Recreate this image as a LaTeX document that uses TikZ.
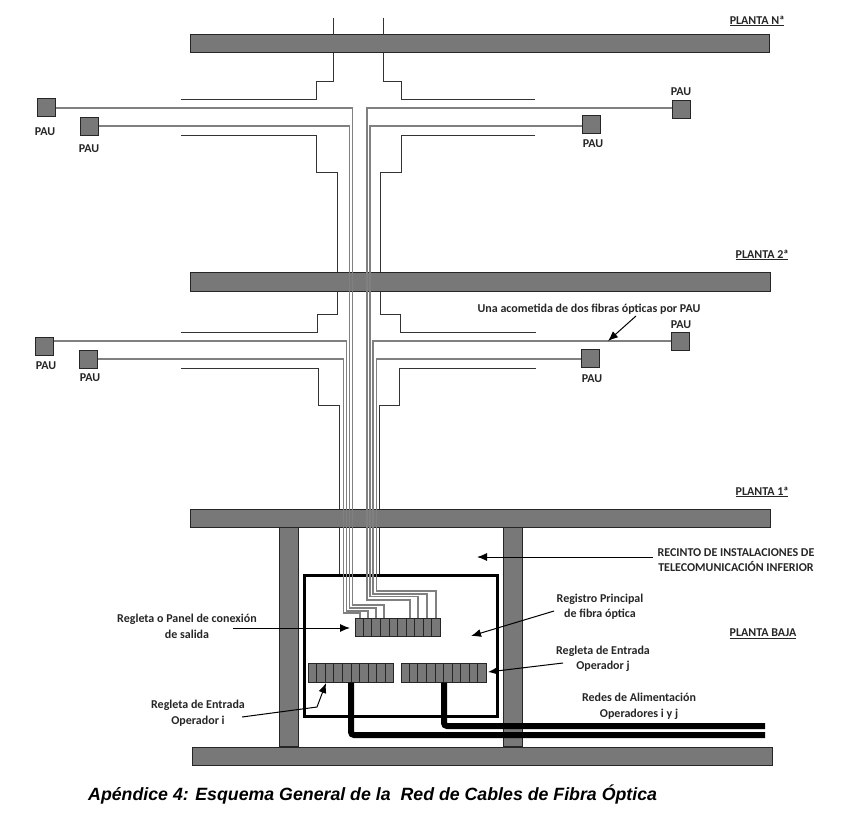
\documentclass[tikz,border=0pt]{standalone}
\usepackage{fontspec}
\setmainfont{Carlito}
\newfontfamily\piefont{Liberation Sans}
\usetikzlibrary{calc,arrows.meta}
\definecolor{hormigon}{gray}{0.47}
\tikzset{
    losa/.style={draw=black!85, line width=1pt, fill=hormigon},
    pau/.style={draw=black!85, line width=1pt, fill=hormigon, minimum size=18pt, inner sep=0pt},
    regleta/.style={draw=black!85, line width=.8pt, fill=hormigon, minimum width=85pt, minimum height=18.5pt, inner sep=0pt},
    conducto/.style={black!80, line width=1pt},
    fibra/.style={black!50, line width=1.1pt},
    cable/.style={black, line width=6pt, rounded corners=3pt},
    flecha/.style={-{Latex[length=10pt,width=8pt]}, black, line width=1pt},
    etiqueta/.style={font=\fontsize{12}{15.5}\selectfont\bfseries, align=center, inner sep=0pt, text=black!85}
}
\begin{document}
\begin{tikzpicture}[x=1pt,y=-1pt]
    \useasboundingbox (0,0) rectangle (850,816);

    % Pilares
    \draw[losa] (279,527) rectangle (298,746);
    \draw[losa] (503,527) rectangle (522,746);

    % Losas
    \draw[losa] (190,35) rectangle (769,53);
    \draw[losa] (190,272) rectangle (770,291);
    \draw[losa] (190,509) rectangle (770,527);
    \draw[losa] (192,747) rectangle (772,765);

    % Conductos planta N
    \draw[conducto] (333,18) -- (333,35);
    \draw[conducto] (383,18) -- (383,35);
    \draw[conducto] (333,53) -- (333,81) -- (316,81) -- (316,99) -- (181,99);
    \draw[conducto] (383,53) -- (383,81) -- (401,81) -- (401,99) -- (535,99);
    \draw[conducto] (181,135) -- (316,135) -- (316,172) -- (337,172) -- (337,272);
    \draw[conducto] (535,135) -- (401,135) -- (401,172) -- (380,172) -- (380,272);

    % Conductos planta 2
    \draw[conducto] (337,291) -- (337,314) -- (317,314) -- (317,332) -- (181,332);
    \draw[conducto] (380,291) -- (380,314) -- (400,314) -- (400,332) -- (536,332);
    \draw[conducto] (181,368) -- (318,368) -- (318,405) -- (339,405) -- (339,509);
    \draw[conducto] (536,368) -- (399,368) -- (399,405) -- (379,405) -- (379,509);
    \draw[conducto] (339,527) -- (339,575);
    \draw[conducto] (379,527) -- (379,575);

    % Registro principal
    \draw[black, line width=3pt] (304,575.5) rectangle (497,716.5);

    % Regletas
    \node[regleta] (regSalida) at (397.5,627.5) {};
    \node[regleta] (regEntradaI) at (351,673) {};
    \node[regleta] (regEntradaJ) at (443.5,673) {};
    \foreach \r in {regSalida,regEntradaI,regEntradaJ}
        \foreach \i in {1,...,9}
            \draw[black!85, line width=.7pt] ($(\r.north west)!\i/10!(\r.north east)$) -- ($(\r.south west)!\i/10!(\r.south east)$);

    % PAU
    \node[pau] (pauNa) at (46,107) {};
    \node[pau] (pauNb) at (89.5,126) {};
    \node[pau] (pauNc) at (681,109.5) {};
    \node[pau] (pauNd) at (591,124.5) {};
    \node[pau] (pauDa) at (44,346) {};
    \node[pau] (pauDb) at (88,359) {};
    \node[pau] (pauDc) at (680.5,341.5) {};
    \node[pau] (pauDd) at (590.5,358) {};

    \node[etiqueta] (txtNa) at (45,132) {PAU};
    \node[etiqueta] (txtNb) at (89,149) {PAU};
    \node[etiqueta] (txtNc) at (681,92) {PAU};
    \node[etiqueta] (txtNd) at (593,144) {PAU};
    \node[etiqueta] (txtDa) at (46,366) {PAU};
    \node[etiqueta] (txtDb) at (90,378) {PAU};
    \node[etiqueta] (txtDc) at (681,325) {PAU};
    \node[etiqueta] (txtDd) at (592,379) {PAU};

    % Fibras: PAU, altura, vertical, quiebro y entrada en la regleta
    \foreach \p/\a/\x/\q/\e in {pauNa/108/352.5/605/384, pauNb/126/349.5/608/376,
                                pauDa/341/346.5/611/368, pauDb/359/343.5/613/360}
        \draw[fibra] (\p.east |- 0,\a) -- (\x,\a) -- (\x,\q) -- (\e,\q) -- (\e,0 |- regSalida.north);
    \foreach \p/\a/\x/\q/\e in {pauNc/108/367/600/410, pauNd/126/370/596.5/418,
                                pauDc/341/373/594/427, pauDd/359/376.5/591/436}
        \draw[fibra] (\p.west |- 0,\a) -- (\x,\a) -- (\x,\q) -- (\e,\q) -- (\e,0 |- regSalida.north);

    % Redes de alimentacion
    \coordinate (finI) at (765,735);
    \coordinate (finJ) at (765,726);
    \draw[cable] (351,0 |- regEntradaI.south) -- (351,735) -- (finI);
    \draw[cable] (444,0 |- regEntradaJ.south) -- (444,726) -- (finJ);

    % Plantas
    \node[etiqueta] (plantaN) at (757,21) {\underline{PLANTA Nª}};
    \node[etiqueta] (plantaD) at (762,255) {\underline{PLANTA 2ª}};
    \node[etiqueta] (plantaU) at (762,492) {\underline{PLANTA 1ª}};
    \node[etiqueta] (plantaB) at (763,634) {\underline{PLANTA BAJA}};

    % Textos
    \node[etiqueta] (txtAcometida) at (589,309) {Una acometida de dos fibras ópticas por PAU};
    \node[etiqueta] (txtRecinto) at (736,560) {RECINTO DE INSTALACIONES DE\\TELECOMUNICACIÓN INFERIOR};
    \node[etiqueta] (txtRegistro) at (600,606.5) {Registro Principal\\de fibra óptica};
    \node[etiqueta] (txtSalida) at (187,626.5) {Regleta o Panel de conexión\\de salida};
    \node[etiqueta] (txtJ) at (603,659) {Regleta de Entrada\\Operador j};
    \node[etiqueta] (txtRedes) at (639,706.5) {Redes de Alimentación\\Operadores i y j};
    \node[etiqueta] (txtI) at (198,713) {Regleta de Entrada\\Operador i};

    % Flechas
    \draw[flecha] (636,316) -- (608,341);
    \draw[flecha] (653,557) -- (477,557);
    \draw[flecha] (554,611) -- (471,636);
    \draw[flecha] (233,628) -- (350,628);
    \draw[flecha] (563,663) -- (488,672);
    \draw[flecha] (242,717) -- (317,707) -- (326,683);

    % Pie
    \node[anchor=west, inner sep=0pt, font=\piefont\fontsize{17.75}{20}\selectfont\bfseries\itshape] (pie) at (88,794)
        {Apéndice 4: Esquema General de la\ \ Red de Cables de Fibra Óptica};
\end{tikzpicture}
\end{document}
